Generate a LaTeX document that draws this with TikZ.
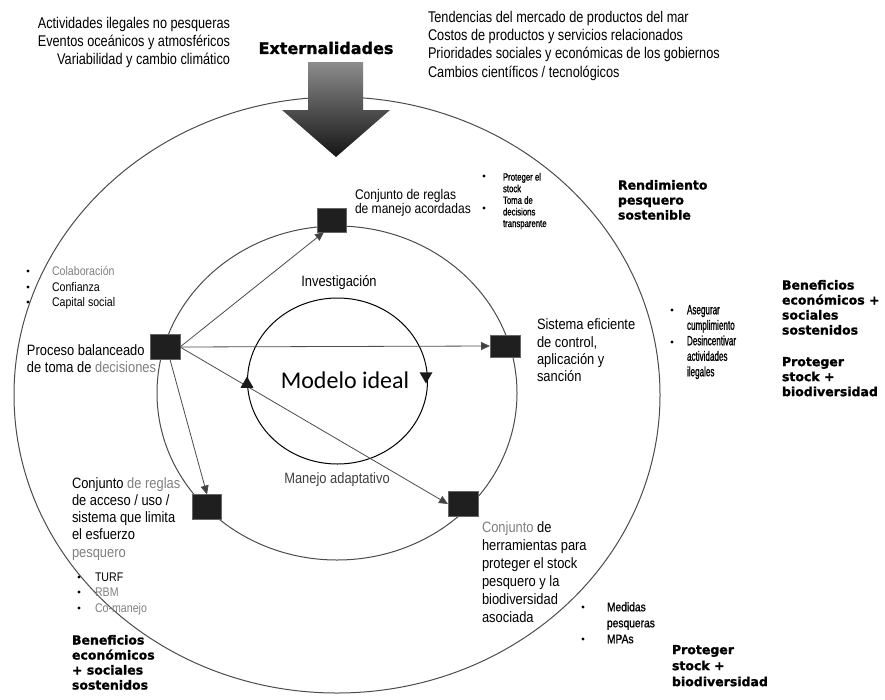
\documentclass[tikz,border=0pt]{standalone}
\usepackage{fontspec}
\setmainfont{Liberation Sans}
\newfontfamily\lblfont{Liberation Sans}[FakeStretch=0.86]
\newfontfamily\topfont{Liberation Sans}[FakeStretch=0.82]
\newfontfamily\listfont{Liberation Sans}[FakeStretch=0.85]
\newfontfamily\tightfont{Liberation Sans}[FakeStretch=0.6, FakeBold=1]
\newfontfamily\notefont{Liberation Sans}[FakeStretch=0.74, FakeBold=1]
\newfontfamily\medfont{Liberation Sans}[FakeStretch=0.82, FakeBold=1]
\newfontfamily\heavyfont{DejaVu Sans}[BoldFeatures={FakeBold=1.3}]
\newfontfamily\modelfont{Carlito}
\usetikzlibrary{arrows.meta,shapes.geometric}

\tikzset{
  every node/.style={inner sep=0pt, outer sep=0pt},
  ringline/.style={draw=black!70, line width=1pt},
  coreline/.style={draw=black, line width=1pt},
  stagebox/.style={draw=black!60, fill=black!88, minimum width=29pt, minimum height=24pt},
  flowarrow/.style={draw=black!70, line width=0.8pt,
    -{Triangle[length=9pt,width=8pt,fill=black!75]}},
  spinmark/.style={regular polygon, regular polygon sides=3, fill=black!90, minimum size=15pt},
  bulletdot/.style={circle, fill=black, minimum size=3.2pt},
  toptext/.style={font=\topfont\fontsize{15.5}{18.2}\selectfont, align=left, anchor=north west},
  lbltext/.style={font=\lblfont\fontsize{15}{17.2}\selectfont, align=left, anchor=north west},
  listtext/.style={font=\listfont\fontsize{12.5}{15.5}\selectfont, align=left, anchor=north west},
  tighttext/.style={font=\tightfont\fontsize{13.5}{15.5}\selectfont, align=left, anchor=north west},
  boldtext/.style={font=\heavyfont\bfseries\fontsize{12.5}{15}\selectfont, align=left, anchor=north west},
}

\begin{document}
\begin{tikzpicture}[x=1pt, y=-1pt]
\useasboundingbox (0,0) rectangle (885,699);
\fill[white] (0,0) rectangle (885,699);

% three nested rings
\draw[ringline] (337,395) ellipse [x radius=323pt, y radius=298pt];
\draw[ringline] (337,393) ellipse [x radius=180pt, y radius=167pt];
\draw[coreline] (337.5,381) ellipse [x radius=90pt, y radius=83pt];

% external pressures arrow
\shade[top color=black!45, bottom color=black!92]
  (308,62) -- (363,62) -- (363,110) -- (390,110) -- (336,157) -- (282,110) -- (308,110) -- cycle;

% external factors
\node[toptext, anchor=north east, align=right] (threats) at (230,17.2)
  {Actividades ilegales no pesqueras\\Eventos oceánicos y atmosféricos\\Variabilidad y cambio climático};
\node[toptext] (trends) at (428,11.2)
  {Tendencias del mercado de productos del mar\\Costos de productos y servicios relacionados\\Prioridades sociales y económicas de los gobiernos\\Cambios científicos / tecnológicos};
\node[font=\heavyfont\bfseries\fontsize{16}{18}\selectfont] (ext) at (326,48) {Externalidades};

% management components on the middle ring
\node[stagebox] (agreed) at (332,220) {};
\node[stagebox, minimum width=30pt, minimum height=25pt] (process) at (165,347) {};
\node[stagebox, minimum width=30pt, minimum height=22pt] (control) at (505,346) {};
\node[stagebox, minimum height=25pt] (access) at (207,507) {};
\node[stagebox, minimum width=30pt, minimum height=25pt] (tools) at (463,504) {};

\draw[flowarrow] (process.east) -- ([xshift=-8pt]agreed.south);
\draw[flowarrow] (process.east) -- (control.west);
\draw[flowarrow] (process.east) -- (tools.west);
\draw[flowarrow] ([xshift=5pt]process.south) -- (access.north);

% direction marks on the inner ring
\node[spinmark] (upmark) at (247,384) {};
\node[spinmark, shape border rotate=180] (downmark) at (426,376) {};
\node[font=\modelfont\fontsize{24}{26}\selectfont] (model) at (345,380) {Modelo ideal};

\node[lbltext, anchor=center] (research) at (339,283) {Investigación};
\node[lbltext, anchor=center, text=black!75] (adaptive) at (337,480) {Manejo adaptativo};

% component labels
\node[lbltext, font=\lblfont\fontsize{14}{12.4}\selectfont] (agreedtxt) at (355,189)
  {Conjunto de reglas\\de manejo acordadas};
\node[lbltext] (controltxt) at (537,319)
  {Sistema eficiente\\de control,\\aplicación y\\sanción};
\node[lbltext] (processtxt) at (27,344.5)
  {Proceso balanceado\\de toma de \textcolor{black!50}{decisiones}};
\node[lbltext] (accesstxt) at (72,477.5)
  {Conjunto \textcolor{black!50}{de reglas}\\de acceso / uso /\\sistema que limita\\el esfuerzo\\\textcolor{black!50}{pesquero}};
\node[lbltext, font=\lblfont\fontsize{15}{18}\selectfont] (toolstxt) at (482,521.5)
  {\textcolor{black!50}{Conjunto} de\\herramientas para\\proteger el stock\\pesquero y la\\biodiversidad\\asociada};

% bullet lists
\node[bulletdot] (b1) at (484,176) {};
\node[bulletdot] (b2) at (484,208) {};
\node[tighttext, font=\notefont\fontsize{10.5}{11.6}\selectfont] (agreedlist) at (503,173)
  {Proteger el\\stock\\Toma de\\decisions\\transparente};

\node[bulletdot] (b3) at (672,310) {};
\node[bulletdot] (b4) at (672,342) {};
\node[tighttext] (controllist) at (687,305)
  {Asegurar\\cumplimiento\\Desincentivar\\actividades\\ilegales};

\node[bulletdot] (b5) at (28,271) {};
\node[bulletdot] (b6) at (28,287) {};
\node[bulletdot] (b7) at (28,302) {};
\node[listtext] (processlist) at (52,266.4)
  {\textcolor{black!50}{Colaboración}\\Confianza\\Capital social};

\node[bulletdot] (b8) at (79,577) {};
\node[bulletdot] (b9) at (79,592) {};
\node[bulletdot] (b10) at (79,608) {};
\node[listtext] (accesslist) at (95,572.5)
  {TURF\\\textcolor{black!50}{RBM}\\\textcolor{black!50}{Co-manejo}};

\node[bulletdot] (b11) at (583,607) {};
\node[bulletdot] (b12) at (583,639) {};
\node[listtext, font=\medfont\fontsize{12.5}{16}\selectfont] (toolslist) at (607,602.2)
  {Medidas\\pesqueras\\MPAs};

% outcomes
\node[boldtext] (yield) at (618,180) {Rendimiento\\pesquero\\sostenible};
\node[boldtext] (benefitsR) at (782,280) {Beneficios\\económicos +\\sociales\\sostenidos};
\node[boldtext] (protectR) at (782,357) {Proteger\\stock +\\biodiversidad};
\node[boldtext] (benefitsL) at (72,635) {Beneficios\\económicos\\+ sociales\\sostenidos};
\node[boldtext, font=\heavyfont\bfseries\fontsize{12.5}{16}\selectfont] (protectB) at (672,645) {Proteger\\stock +\\biodiversidad};
\end{tikzpicture}
\end{document}
